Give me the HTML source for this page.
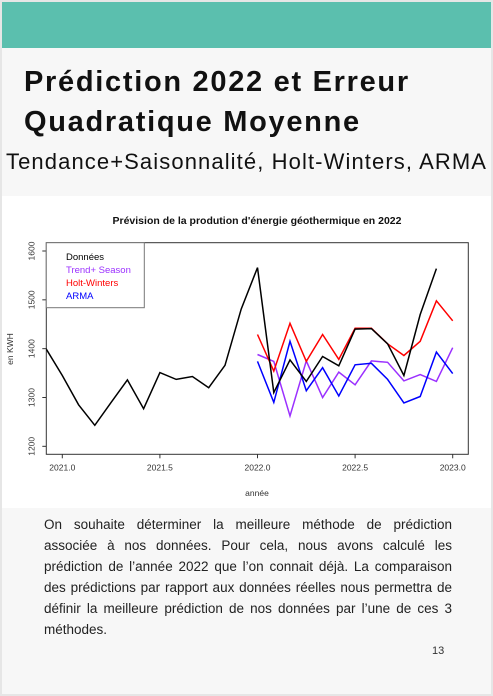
<!DOCTYPE html>
<html><head><meta charset="utf-8">
<style>
html,body{margin:0;padding:0;}
body{width:493px;height:696px;position:relative;background:#e6e6e6;font-family:"Liberation Sans",sans-serif;overflow:hidden;}
#page{position:absolute;left:2px;top:2px;width:489px;height:692px;background:#f7f7f7;}
#band{position:absolute;left:0;top:0;width:489px;height:46px;background:#5bbfae;}
#t1{position:absolute;left:22px;top:60px;font-size:29px;font-weight:bold;line-height:40px;color:#111;white-space:nowrap;letter-spacing:1.7px;}
#sub{position:absolute;left:4px;top:145px;font-size:22px;line-height:30px;color:#111;white-space:nowrap;letter-spacing:1.1px;}
#chartbox{position:absolute;left:0;top:194px;width:489px;height:312px;background:#fff;}
#txt{position:absolute;left:42px;top:512px;width:408px;font-size:13.5px;line-height:21px;color:#222;}
#txt div{width:408px;text-align:justify;text-align-last:justify;white-space:nowrap;}
#txt div.last{text-align-last:left;}
#pn{position:absolute;left:430px;top:643px;font-size:11px;color:#333;}
</style></head><body>
<div id="page">
<div id="band"></div>
<div id="t1">Prédiction 2022 et Erreur<br>Quadratique Moyenne</div>
<div id="sub">Tendance+Saisonnalité, Holt-Winters, ARMA</div>
<div id="chartbox">
<svg id="chart" width="489" height="312" style="position:absolute;left:-2px;top:-194px;overflow:visible"></svg>
</div>
<div id="txt"><div>On souhaite déterminer la meilleure méthode de prédiction</div><div>associée à nos données. Pour cela, nous avons calculé les</div><div>prédiction de l’année 2022 que l’on connait déjà. La comparaison</div><div>des prédictions par rapport aux données réelles nous permettra de</div><div>définir la meilleure prédiction de nos données par l’une de ces 3</div><div class="last">méthodes.</div></div>
<div id="pn">13</div>
</div>
<script>
const dataValues=[1400,1345,1285,1243,1290,1336,1277,1351,1337,1343,1320,1366,1481,1566,1310,1377,1333,1384,1365,1440,1441,1410,1345,1470,1564];
const dataStart=2020+11/12;
const trendValues=[1388,1374,1262,1375,1300,1352,1326,1375,1372,1334,1347,1333,1402];
const hwValues=[1429,1354,1452,1374,1429,1378,1442,1442,1410,1386,1415,1498,1457];
const armaValues=[1374,1290,1415,1314,1361,1303,1367,1370,1337,1289,1302,1393,1349];
const fcStart=2022.0;
const xTicks=[2021.0,2021.5,2022.0,2022.5,2023.0];
const yTicks=[1200,1300,1400,1500,1600];
const legendLabels=["Données","Trend+ Season","Holt-Winters","ARMA"];
const legendColors=["#000","#9b30ff","#ff0000","#0000ff"];

const NS="http://www.w3.org/2000/svg";
const svg=document.getElementById('chart');
const X=v=>62.3+(v-2021)*195.2;
const Y=v=>249+(1600-v)*0.4883;
const L=46.3,R=468.3,T=240.7,B=452.3;
function mk(tag,attrs,txt){const e=document.createElementNS(NS,tag);for(const k in attrs)e.setAttribute(k,attrs[k]);if(txt!==undefined)e.textContent=txt;svg.appendChild(e);return e;}
let e;
e=mk('text',{x:257,y:222,'text-anchor':'middle','font-size':'10.5','font-weight':'bold',fill:'#111'},"Prévision de la prodution d'énergie géothermique en 2022");


e=mk('rect',{x:L,y:T,width:R-L,height:B-T,fill:'none',stroke:'#333','stroke-width':1});


xTicks.forEach(t=>{
 e=mk('line',{x1:X(t),x2:X(t),y1:B,y2:B+4,stroke:'#333'});
 
 
 e=mk('text',{x:X(t),y:B+16,'text-anchor':'middle','font-size':'8.5',fill:'#333'},t.toFixed(1));
 
 
});
yTicks.forEach(t=>{
 e=mk('line',{x1:L-4,x2:L,y1:Y(t),y2:Y(t),stroke:'#333'});
 
 
 e=mk('text',{x:0,y:0,'text-anchor':'middle','font-size':'8.5',fill:'#333',transform:`translate(${L-12},${Y(t)}) rotate(-90)`},String(t));
 
 
});
e=mk('text',{x:257,y:494,'text-anchor':'middle','font-size':'8.5',fill:'#333'},'année');


e=mk('text',{x:0,y:0,'text-anchor':'middle','font-size':'8.5',fill:'#333',transform:`translate(13,347) rotate(-90)`},'en KWH');


const defs=mk('clipPath',{id:'clip'});
const cr=document.createElementNS(NS,'rect');cr.setAttribute('x',L);cr.setAttribute('y',T);cr.setAttribute('width',R-L);cr.setAttribute('height',B-T);defs.appendChild(cr);
function line(vals,start,color,name){
 const pts=vals.map((v,i)=>X(start+i/12).toFixed(1)+','+Y(v).toFixed(1)).join(' ');
 const p=mk('polyline',{points:pts,fill:'none',stroke:color,'stroke-width':1.5,'clip-path':'url(#clip)'});
 
 
}
line(trendValues,fcStart,legendColors[1],'trend-season-line');
line(hwValues,fcStart,legendColors[2],'holt-winters-line');
line(armaValues,fcStart,legendColors[3],'arma-line');
line(dataValues,dataStart,legendColors[0],'data-line');
e=mk('rect',{x:L,y:T,width:98,height:65,fill:'#fff',stroke:'#777','stroke-width':1});


legendLabels.forEach((s,i)=>{
 e=mk('text',{x:66,y:258+i*13,'font-size':'9.5',fill:legendColors[i]},s);
 
 
});
</script>
</body></html>
